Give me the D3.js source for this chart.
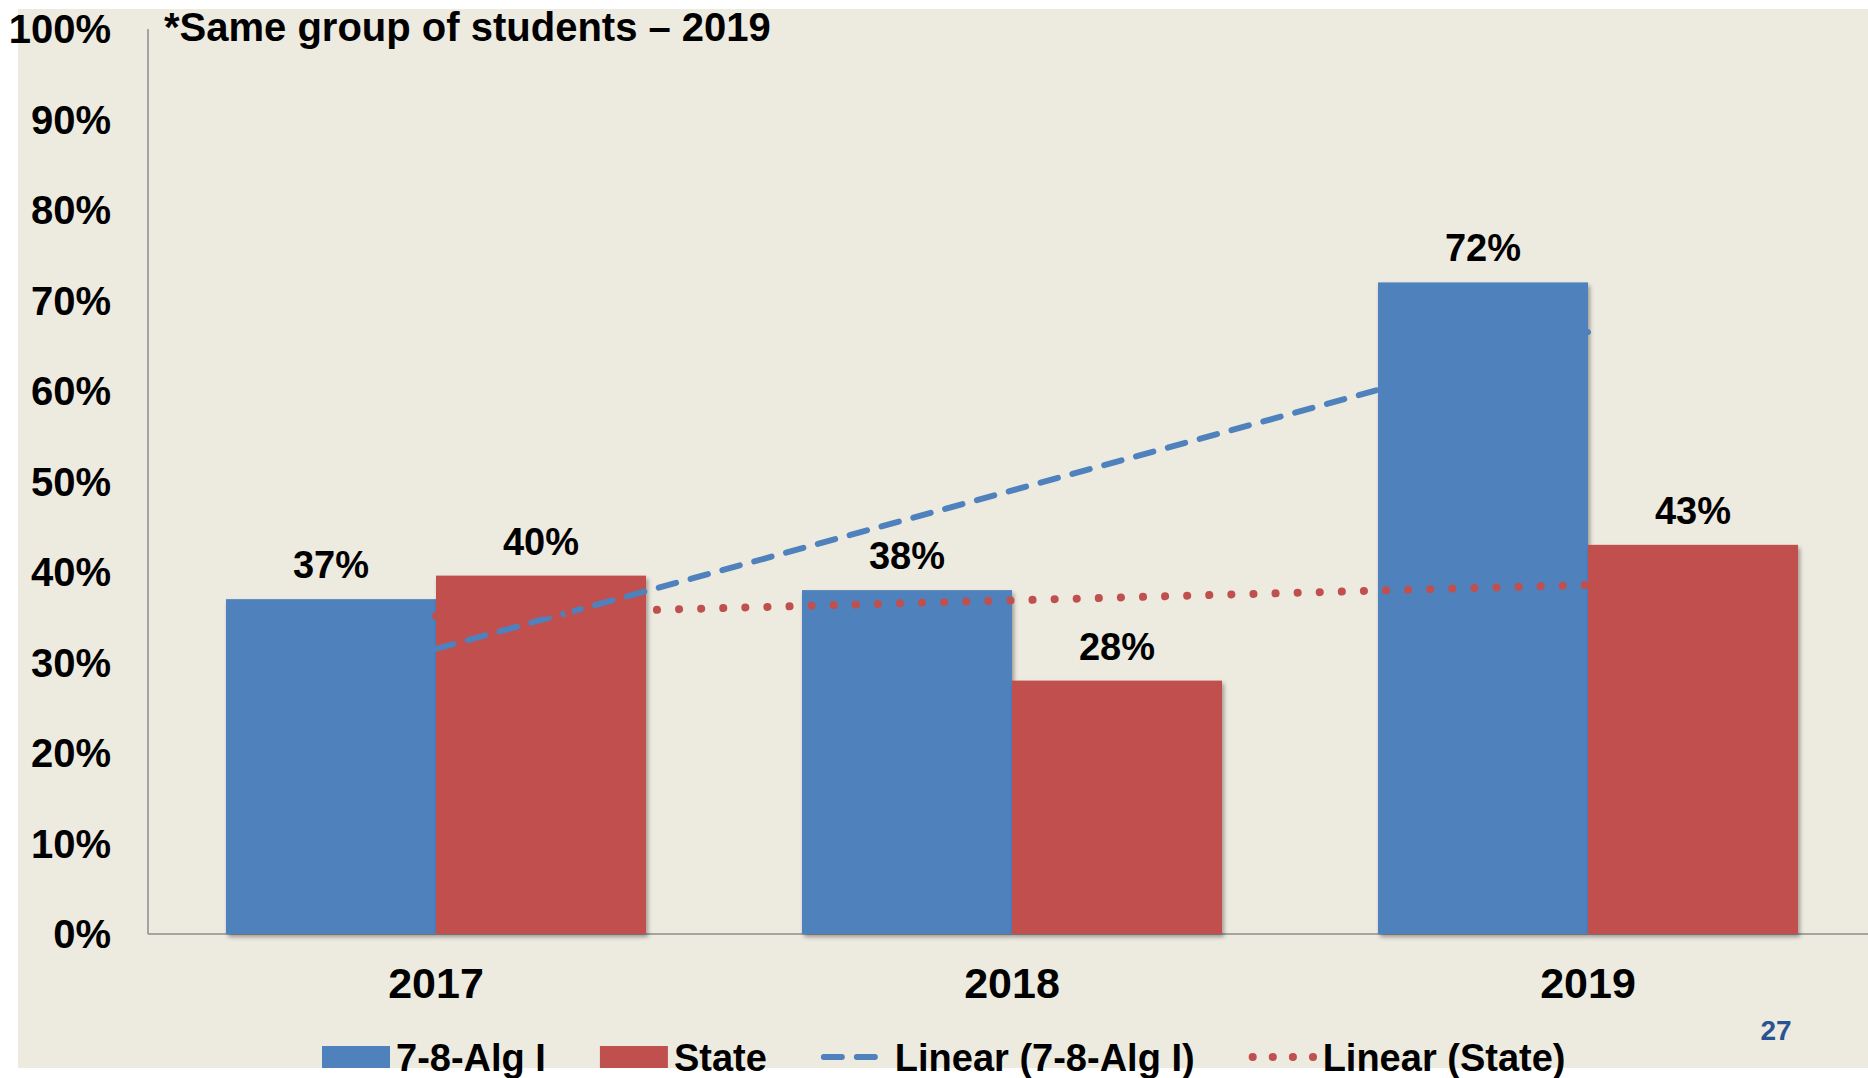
<!DOCTYPE html>
<html>
<head>
<meta charset="utf-8">
<script src="https://d3js.org/d3.v7.min.js"></script>
<style>
  body { margin:0; background:#ffffff; }
  text { font-family:"Liberation Sans", Arial, sans-serif; font-weight:bold; }
</style>
</head>
<body>
  <div id="my_dataviz"></div>
  <script>
    // chart values
    var years = ["2017", "2018", "2019"];
    var seriesNames = ["7-8-Alg I", "State"];
    var algValues = [37, 38, 72];
    var stateValues = [39.6, 28, 43];
    var yTicks = [0, 10, 20, 30, 40, 50, 60, 70, 80, 90, 100];
    var noteText = "*Same group of students \u2013 2019";
    var pageNumber = "27";

    var colors = { "7-8-Alg I": "#4f81bd", "State": "#c0504d" };

    var width = 1868, height = 1078;
    var margin = { top: 29, left: 148, bottom: 934 };

    var svg = d3.select("#my_dataviz")
      .append("svg")
      .attr("width", width)
      .attr("height", height);

    var defs = svg.append("defs");
    defs.append("filter")
      .attr("id", "shadow")
      .attr("x", "-5%").attr("y", "-5%").attr("width", "115%").attr("height", "115%")
      .append("feDropShadow")
      .attr("dx", 2).attr("dy", 3)
      .attr("stdDeviation", 2)
      .attr("flood-color", "#000")
      .attr("flood-opacity", 0.35);

    // slide background
    svg.append("rect")
      .attr("x", 18).attr("y", 9)
      .attr("width", width - 18).attr("height", 1068 - 9)
      .attr("fill", "#edeae0");

    var x0 = d3.scaleBand()
      .domain(years)
      .range([margin.left, margin.left + 3 * 576])
      .paddingInner(0.2708)
      .paddingOuter(0.1354);

    var x1 = d3.scaleBand()
      .domain(seriesNames)
      .range([0, x0.bandwidth()]);

    var y = d3.scaleLinear()
      .domain([0, 100])
      .range([margin.bottom, margin.top]);

    // axes lines
    svg.append("line")
      .attr("x1", margin.left).attr("x2", margin.left)
      .attr("y1", y(100)).attr("y2", y(0))
      .attr("stroke", "#8c8c8c").attr("stroke-width", 1.5);

    svg.append("line")
      .attr("x1", margin.left).attr("x2", width)
      .attr("y1", y(0)).attr("y2", y(0))
      .attr("stroke", "#8c8c8c").attr("stroke-width", 1.5);

    // y tick labels
    svg.selectAll(".ytick")
      .data(yTicks).enter()
      .append("text")
      .attr("class", "ytick")
      .attr("x", 111)
      .attr("y", function(d) { return y(d); })
      .attr("dy", "0.36em")
      .attr("text-anchor", "end")
      .style("font-size", "40px")
      .style("fill", "#000")
      .text(function(d) { return d + "%"; });

    // x labels
    svg.selectAll(".xtick")
      .data(years).enter()
      .append("text")
      .attr("class", "xtick")
      .attr("x", function(d) { return x0(d) + x0.bandwidth() / 2; })
      .attr("y", 998)
      .attr("text-anchor", "middle")
      .style("font-size", "43px")
      .style("fill", "#000")
      .text(function(d) { return d; });

    // bars
    var rows = years.map(function(yr, i) {
      return { year: yr, values: [
        { name: "7-8-Alg I", value: algValues[i] },
        { name: "State", value: stateValues[i] }
      ] };
    });

    var group = svg.selectAll(".grp")
      .data(rows).enter()
      .append("g")
      .attr("class", "grp")
      .attr("transform", function(d) { return "translate(" + x0(d.year) + ",0)"; });

    group.selectAll("rect")
      .data(function(d) { return d.values; }).enter()
      .append("rect")
      .attr("x", function(d) { return x1(d.name); })
      .attr("y", function(d) { return y(d.value); })
      .attr("width", x1.bandwidth())
      .attr("height", function(d) { return y(0) - y(d.value); })
      .attr("fill", function(d) { return colors[d.name]; })
      .attr("filter", "url(#shadow)");

    group.selectAll(".lbl")
      .data(function(d) { return d.values; }).enter()
      .append("text")
      .attr("class", "lbl")
      .attr("x", function(d) { return x1(d.name) + x1.bandwidth() / 2; })
      .attr("y", function(d) { return y(d.value) - 21; })
      .attr("text-anchor", "middle")
      .style("font-size", "38px")
      .style("fill", "#000")
      .text(function(d) { return Math.round(d.value) + "%"; });

    // linear trend lines (least squares, like Excel)
    function trend(vals) {
      var n = vals.length, mx = (n + 1) / 2, my = d3.mean(vals);
      var num = 0, den = 0;
      vals.forEach(function(v, i) { num += (i + 1 - mx) * (v - my); den += (i + 1 - mx) * (i + 1 - mx); });
      var b = num / den, a = my - b * mx;
      return [{ year: years[0], v: a + b }, { year: years[n - 1], v: a + b * n }];
    }

    var trendLine = d3.line()
      .x(function(d) { return x0(d.year) + x0.bandwidth() / 2; })
      .y(function(d) { return y(d.v); });

    svg.append("path")
      .datum(trend(algValues))
      .attr("d", trendLine)
      .attr("fill", "none")
      .attr("stroke", colors["7-8-Alg I"])
      .attr("stroke-width", 6)
      .attr("stroke-linecap", "round")
      .attr("stroke-dasharray", "18 15");

    svg.append("path")
      .datum(trend(stateValues))
      .attr("d", trendLine)
      .attr("fill", "none")
      .attr("stroke", colors["State"])
      .attr("stroke-width", 8)
      .attr("stroke-linecap", "round")
      .attr("stroke-dasharray", "0.1 22");

    // note
    svg.append("text")
      .attr("x", 164).attr("y", 41)
      .style("font-size", "40px")
      .style("fill", "#000")
      .text(noteText);

    // page number
    svg.append("text")
      .attr("x", 1776).attr("y", 1040)
      .attr("text-anchor", "middle")
      .style("font-size", "28px")
      .style("fill", "#2a5491")
      .text(pageNumber);

    // legend
    var legendItems = [
      { label: "7-8-Alg I", type: "box", color: colors["7-8-Alg I"] },
      { label: "State", type: "box", color: colors["State"] },
      { label: "Linear (7-8-Alg I)", type: "dash", color: colors["7-8-Alg I"] },
      { label: "Linear (State)", type: "dot", color: colors["State"] }
    ];

    var lx = 322, ly = 1057;
    var legend = svg.append("g");
    legendItems.forEach(function(it) {
      if (it.type === "box") {
        legend.append("rect")
          .attr("x", lx).attr("y", ly - 11)
          .attr("width", 68).attr("height", 22)
          .attr("fill", it.color);
      } else if (it.type === "dash") {
        legend.append("line")
          .attr("x1", lx + 3).attr("x2", lx + 68)
          .attr("y1", ly).attr("y2", ly)
          .attr("stroke", it.color).attr("stroke-width", 6)
          .attr("stroke-linecap", "round")
          .attr("stroke-dasharray", "18 15");
      } else {
        legend.append("line")
          .attr("x1", lx + 4).attr("x2", lx + 70)
          .attr("y1", ly).attr("y2", ly)
          .attr("stroke", it.color).attr("stroke-width", 8)
          .attr("stroke-linecap", "round")
          .attr("stroke-dasharray", "0.1 20");
      }
      var t = legend.append("text")
        .attr("x", lx + 74).attr("y", ly + 14)
        .style("font-size", "38px")
        .style("fill", "#000")
        .text(it.label);
      lx = lx + 74 + t.node().getComputedTextLength() + 54;
    });
  </script>
</body>
</html>
